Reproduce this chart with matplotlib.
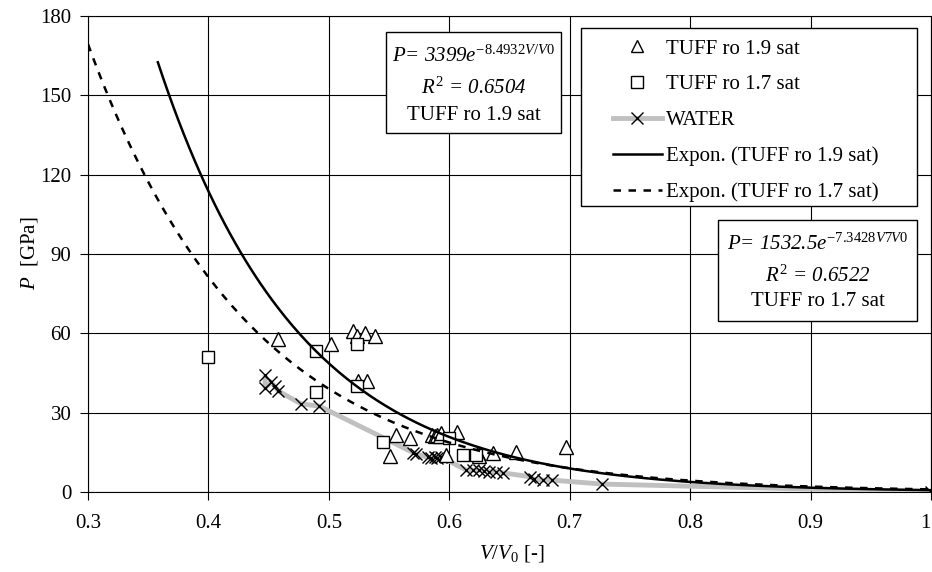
import numpy as np
import matplotlib
matplotlib.use("Agg")
import matplotlib.pyplot as plt
from matplotlib.lines import Line2D
from matplotlib.patches import Rectangle
from matplotlib.ticker import FuncFormatter

plt.rcParams['font.family'] = ['Liberation Serif', 'DejaVu Serif']
plt.rcParams['mathtext.fontset'] = 'custom'
plt.rcParams['mathtext.rm'] = 'Liberation Serif'
plt.rcParams['mathtext.it'] = 'Liberation Serif:italic'
plt.rcParams['mathtext.bf'] = 'Liberation Serif:bold'

# ---- data ----
tuff19_x = [0.458, 0.502, 0.520, 0.523, 0.530, 0.538, 0.524, 0.532, 0.551, 0.556,
            0.567, 0.586, 0.588, 0.590, 0.592, 0.593, 0.597, 0.606, 0.624, 0.625,
            0.636, 0.655, 0.697]
tuff19_y = [58.0, 56.0, 61.0, 59.0, 60.0, 59.0, 42.0, 42.0, 13.6, 21.6,
            20.3, 21.6, 21.0, 21.6, 21.0, 22.2, 14.0, 22.6, 14.6, 13.6,
            14.6, 15.2, 16.9]

tuff17_x = [0.400, 0.489, 0.489, 0.523, 0.523, 0.545, 0.600, 0.611, 0.622]
tuff17_y = [51.0, 53.3, 37.8, 56.0, 40.0, 19.0, 20.3, 14.0, 14.0]

water_x = [0.447, 0.447, 0.452, 0.455, 0.458, 0.477, 0.492, 0.570, 0.572, 0.582,
           0.585, 0.588, 0.590, 0.593, 0.614, 0.620, 0.625, 0.629, 0.633, 0.639,
           0.645, 0.667, 0.670, 0.678, 0.685, 0.727, 1.000]
water_y = [44.2, 39.3, 41.6, 40.0, 38.2, 33.3, 32.5, 14.9, 14.5, 13.1,
           12.7, 13.1, 13.0, 13.3, 8.3, 8.3, 8.3, 8.0, 7.7, 7.7,
           7.2, 5.8, 4.8, 4.5, 4.5, 3.0, 0.0]

# exponential trend lines  P = a * exp(b * V/V0)
fit19_a, fit19_b, fit19_range = 3399.0, -8.4932, (0.358, 1.0)
fit17_a, fit17_b, fit17_range = 1532.5, -7.3428, (0.300, 1.0)

x_ticks = [0.3, 0.4, 0.5, 0.6, 0.7, 0.8, 0.9, 1.0]
y_ticks = [0, 30, 60, 90, 120, 150, 180]

legend_labels = ["TUFF ro 1.9 sat", "TUFF ro 1.7 sat", "WATER",
                 "Expon. (TUFF ro 1.9 sat)", "Expon. (TUFF ro 1.7 sat)"]

# ---- figure ----
W, H = 932, 572
fig = plt.figure(figsize=(W / 100, H / 100), dpi=100)
L, R, T, B = 88, 931, 16, 492
ax = fig.add_axes([L / W, 1 - B / H, (R - L) / W, (B - T) / H])

ax.set_xlim(0.3, 1.0)
ax.set_ylim(0, 180)
ax.set_xticks(x_ticks)
ax.set_yticks(y_ticks)
ax.xaxis.set_major_formatter(FuncFormatter(lambda v, p: f"{v:g}"))
ax.grid(True, color='black', lw=0.8)
ax.set_axisbelow(True)
for s in ax.spines.values():
    s.set_color('black')
    s.set_linewidth(0.8)
ax.tick_params(axis='both', direction='out', length=6, width=0.8,
               labelsize=15, colors='black')
ax.tick_params(axis='x', pad=10)
ax.tick_params(axis='y', pad=6)
fig.canvas.draw()
ax.get_xticklabels()[-1].set_horizontalalignment('right')

# water
ax.plot(water_x, water_y, color='#c0c0c0', lw=3.5, zorder=3,
        solid_capstyle='butt')
ax.plot(water_x, water_y, ls='none', marker='x', ms=8, mec='black',
        mew=1.0, zorder=4)
# tuff markers
ax.plot(tuff19_x, tuff19_y, ls='none', marker='^', ms=10, mfc='white',
        mec='black', mew=1.0, zorder=5)
ax.plot(tuff17_x, tuff17_y, ls='none', marker='s', ms=9, mfc='white',
        mec='black', mew=1.0, zorder=5)

# trend lines
x19 = np.linspace(fit19_range[0], fit19_range[1], 300)
x17 = np.linspace(fit17_range[0], fit17_range[1], 300)
ax.plot(x19, fit19_a * np.exp(fit19_b * x19), color='black', lw=1.8, zorder=6)
ax.plot(x17, fit17_a * np.exp(fit17_b * x17), color='black', lw=1.8,
        ls=(0, (3, 3)), zorder=6)

# axis labels
fig.text(512 / W, 1 - 553 / H, r"$V/V_{\mathit{0}}$ [-]", ha='center',
         va='center', fontsize=15)
fig.text(30 / W, 1 - 253 / H, r"$P$  [GPa]", ha='center', va='center',
         fontsize=15, rotation=90)

# annotation boxes
def box(x0, y0, x1, y1):
    fig.patches.append(Rectangle((x0 / W, 1 - y1 / H), (x1 - x0) / W,
                                 (y1 - y0) / H, transform=fig.transFigure,
                                 facecolor='white', edgecolor='black',
                                 lw=1.0, zorder=10))

box(386, 32, 561, 133)
cx = 473.5
fig.text(cx / W, 1 - 56 / H, r"P= 3399$e^{\mathit{-8.4932V/V0}}$",
         ha='center', va='center', fontsize=15, style='italic', zorder=11)
fig.text(cx / W, 1 - 88 / H, r"$R^{\mathit{2}}$ = 0.6504",
         ha='center', va='center', fontsize=15, style='italic', zorder=11)
fig.text(cx / W, 1 - 115 / H, "TUFF ro 1.9 sat",
         ha='center', va='center', fontsize=15, zorder=11)

box(718, 220, 917, 321)
cx = 817.5
fig.text(cx / W, 1 - 244 / H, r"P= 1532.5$e^{\mathit{-7.3428V7V0}}$",
         ha='center', va='center', fontsize=15, style='italic', zorder=11)
fig.text(cx / W, 1 - 276 / H, r"$R^{\mathit{2}}$ = 0.6522",
         ha='center', va='center', fontsize=15, style='italic', zorder=11)
fig.text(cx / W, 1 - 301 / H, "TUFF ro 1.7 sat",
         ha='center', va='center', fontsize=15, zorder=11)

# legend
box(581, 28, 917, 206)
handles = [
    Line2D([], [], ls='none', marker='^', ms=8, mfc='white', mec='black', mew=1.0),
    Line2D([], [], ls='none', marker='s', ms=8, mfc='white', mec='black', mew=1.0),
    Line2D([], [], color='#c0c0c0', lw=3.5, marker='x', ms=8, mec='black', mew=1.0),
    Line2D([], [], color='black', lw=1.8),
    Line2D([], [], color='black', lw=1.8, ls=(0, (3, 3))),
]
leg = fig.legend(handles, legend_labels, loc='upper left',
                 bbox_to_anchor=(613 / W, 1 - 39 / H),
                 bbox_transform=fig.transFigure, frameon=False,
                 fontsize=15, handlelength=2.35, handletextpad=0.2,
                 labelspacing=0.78, borderpad=0, borderaxespad=0, numpoints=1)
leg.set_zorder(12)

fig.savefig("out.png", dpi=100)
